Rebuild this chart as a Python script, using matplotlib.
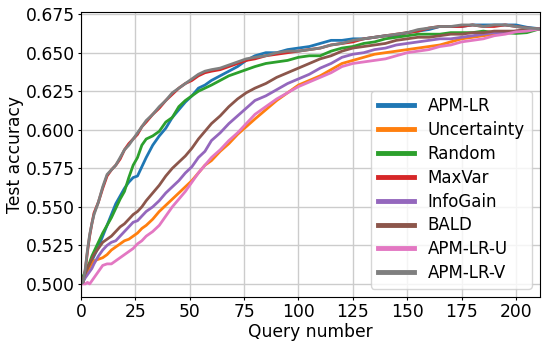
import matplotlib
matplotlib.use("Agg")
import matplotlib.pyplot as plt
import numpy as np

queries = [0, 1, 2, 3, 4, 5, 6, 8, 10, 12, 14, 16, 18, 20, 22, 24, 26, 28, 30, 33, 36, 39, 42, 45,
           48, 51, 54, 57, 60, 64, 68, 72, 76, 80, 85, 90, 95, 100, 105, 110, 115, 120, 125, 130,
           135, 140, 145, 150, 155, 160, 165, 170, 175, 180, 185, 190, 195, 200, 205, 211]

apm_lr = [0.500, 0.501, 0.505, 0.508, 0.512, 0.515, 0.518, 0.524, 0.531, 0.538, 0.545, 0.552, 0.557,
          0.562, 0.566, 0.569, 0.570, 0.576, 0.582, 0.590, 0.596, 0.601, 0.608, 0.613, 0.618, 0.622,
          0.627, 0.629, 0.632, 0.635, 0.638, 0.641, 0.645, 0.648, 0.650, 0.650, 0.652, 0.653, 0.654,
          0.656, 0.658, 0.658, 0.659, 0.659, 0.660, 0.661, 0.661, 0.663, 0.664, 0.665, 0.667, 0.667,
          0.667, 0.668, 0.668, 0.668, 0.668, 0.668, 0.6665, 0.6655]
uncertainty = [0.500, 0.502, 0.505, 0.508, 0.511, 0.513, 0.515, 0.516, 0.517, 0.519, 0.522, 0.524, 0.526,
               0.528, 0.529, 0.531, 0.533, 0.536, 0.538, 0.542, 0.547, 0.551, 0.555, 0.559, 0.563, 0.567,
               0.572, 0.577, 0.580, 0.586, 0.591, 0.597, 0.602, 0.607, 0.613, 0.619, 0.624, 0.629, 0.632,
               0.635, 0.639, 0.643, 0.645, 0.647, 0.649, 0.650, 0.651, 0.652, 0.653, 0.654, 0.655, 0.657,
               0.659, 0.660, 0.661, 0.662, 0.663, 0.664, 0.665, 0.6655]
random_q = [0.505, 0.505, 0.508, 0.511, 0.514, 0.518, 0.521, 0.527, 0.533, 0.538, 0.543, 0.549, 0.555,
            0.560, 0.569, 0.577, 0.582, 0.590, 0.594, 0.596, 0.599, 0.605, 0.608, 0.615, 0.619, 0.622,
            0.625, 0.627, 0.629, 0.632, 0.635, 0.637, 0.639, 0.641, 0.643, 0.644, 0.645, 0.647, 0.648,
            0.648, 0.651, 0.653, 0.654, 0.656, 0.657, 0.659, 0.660, 0.661, 0.662, 0.662, 0.662, 0.663,
            0.663, 0.663, 0.664, 0.663, 0.663, 0.6625, 0.663, 0.6655]
apm_lr_v = [0.500, 0.501, 0.510, 0.522, 0.532, 0.539, 0.545, 0.553, 0.563, 0.571, 0.574, 0.577, 0.582,
            0.587, 0.590, 0.594, 0.598, 0.602, 0.606, 0.610, 0.615, 0.619, 0.624, 0.627, 0.630, 0.633,
            0.636, 0.638, 0.639, 0.640, 0.642, 0.644, 0.646, 0.647, 0.648, 0.650, 0.651, 0.651, 0.652,
            0.653, 0.655, 0.656, 0.658, 0.659, 0.660, 0.661, 0.662, 0.663, 0.665, 0.666, 0.667, 0.667,
            0.668, 0.668, 0.667, 0.668, 0.668, 0.667, 0.666, 0.6655]
maxvar = [0.500, 0.501, 0.509, 0.521, 0.531, 0.539, 0.546, 0.553, 0.562, 0.570, 0.574, 0.577, 0.581,
          0.587, 0.591, 0.594, 0.597, 0.602, 0.605, 0.610, 0.614, 0.619, 0.623, 0.627, 0.630, 0.632,
          0.635, 0.637, 0.638, 0.639, 0.641, 0.643, 0.645, 0.646, 0.648, 0.649, 0.650, 0.651, 0.652,
          0.653, 0.655, 0.656, 0.657, 0.659, 0.660, 0.661, 0.662, 0.663, 0.664, 0.666, 0.667, 0.667,
          0.667, 0.668, 0.667, 0.667, 0.668, 0.667, 0.666, 0.6655]
infogain = [0.500, 0.502, 0.504, 0.506, 0.508, 0.510, 0.513, 0.518, 0.522, 0.525, 0.527, 0.528, 0.531,
            0.534, 0.537, 0.540, 0.541, 0.544, 0.547, 0.550, 0.554, 0.559, 0.563, 0.567, 0.572, 0.576,
            0.582, 0.586, 0.593, 0.598, 0.604, 0.609, 0.614, 0.619, 0.622, 0.626, 0.630, 0.633, 0.636,
            0.640, 0.643, 0.647, 0.649, 0.650, 0.652, 0.653, 0.655, 0.656, 0.657, 0.658, 0.659, 0.659,
            0.660, 0.661, 0.662, 0.663, 0.663, 0.664, 0.665, 0.6655]
bald = [0.500, 0.503, 0.507, 0.510, 0.513, 0.516, 0.519, 0.523, 0.527, 0.529, 0.531, 0.534, 0.537,
        0.539, 0.542, 0.545, 0.547, 0.550, 0.554, 0.559, 0.564, 0.570, 0.575, 0.579, 0.583, 0.588,
        0.594, 0.599, 0.604, 0.609, 0.615, 0.620, 0.624, 0.627, 0.630, 0.634, 0.637, 0.640, 0.643,
        0.646, 0.648, 0.651, 0.653, 0.654, 0.655, 0.656, 0.658, 0.659, 0.660, 0.660, 0.661, 0.662,
        0.662, 0.663, 0.663, 0.664, 0.664, 0.664, 0.665, 0.6655]
apm_lr_u = [0.500, 0.500, 0.500, 0.501, 0.500, 0.502, 0.504, 0.508, 0.512, 0.513, 0.513, 0.515, 0.517,
            0.519, 0.521, 0.523, 0.526, 0.528, 0.531, 0.534, 0.538, 0.544, 0.550, 0.555, 0.560, 0.566,
            0.572, 0.577, 0.582, 0.587, 0.593, 0.598, 0.604, 0.610, 0.615, 0.620, 0.624, 0.628, 0.631,
            0.634, 0.637, 0.641, 0.643, 0.644, 0.645, 0.646, 0.648, 0.650, 0.651, 0.652, 0.654, 0.655,
            0.657, 0.658, 0.659, 0.661, 0.662, 0.6635, 0.664, 0.6655]

series = [
    ("APM-LR", apm_lr, "#1f77b4"),
    ("Uncertainty", uncertainty, "#ff7f0e"),
    ("Random", random_q, "#2ca02c"),
    ("MaxVar", maxvar, "#d62728"),
    ("InfoGain", infogain, "#9467bd"),
    ("BALD", bald, "#8c564b"),
    ("APM-LR-U", apm_lr_u, "#e377c2"),
    ("APM-LR-V", apm_lr_v, "#7f7f7f"),
]

fig = plt.figure(figsize=(5.47, 3.47), dpi=100)
ax = fig.add_axes([0.148, 0.144, 0.839, 0.821])
for name, vals, col in series:
    ax.plot(queries, vals, color=col, linewidth=2, label=name)

ax.set_xlim(0, 211)
ax.set_ylim(0.4915, 0.6763)
ax.set_xticks([0, 25, 50, 75, 100, 125, 150, 175, 200])
ax.set_yticks([0.500, 0.525, 0.550, 0.575, 0.600, 0.625, 0.650, 0.675])
ax.yaxis.set_major_formatter(matplotlib.ticker.FormatStrFormatter('%.3f'))
ax.grid(True, color="#cccccc", linewidth=1)
ax.set_axisbelow(True)
ax.tick_params(labelsize=12.3, length=2.5, pad=2)
ax.set_xlabel("Query number", fontsize=12.3, labelpad=1)
ax.set_ylabel("Test accuracy", fontsize=12.3, labelpad=1)
leg = ax.legend(loc="lower right", fontsize=12, handlelength=2.2, labelspacing=0.35)
for h in leg.get_lines():
    h.set_linewidth(3.5)

fig.savefig("out.png", dpi=100)
